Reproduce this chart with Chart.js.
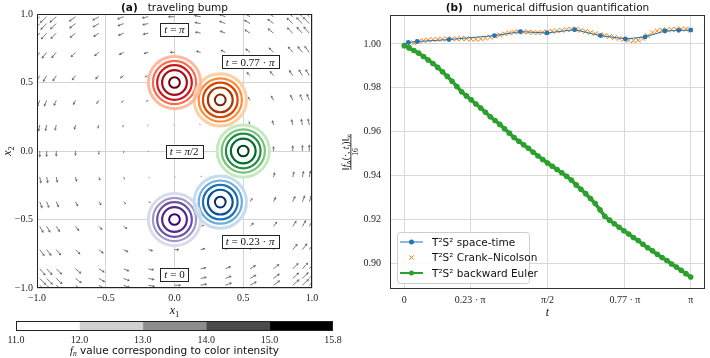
<!DOCTYPE html>
<html>
<head>
<meta charset="utf-8">
<script src="https://cdn.jsdelivr.net/npm/chart.js@4.4.0/dist/chart.umd.min.js"></script>
<style>
  html, body { margin: 0; padding: 0; background: #fff; }
  #wrap { position: relative; width: 710px; height: 358px; overflow: hidden; }
  canvas { position: absolute; }
  #left { left: 0; top: 0; }
  #right { left: 330px; top: 0; }
  #cbar { left: 0; top: 310px; }
</style>
</head>
<body>
<div id="wrap">
  <canvas id="left" width="330" height="320"></canvas>
  <canvas id="right" width="380" height="320"></canvas>
  <canvas id="cbar" width="345" height="48"></canvas>
</div>
<script>
// ---- panel (a): traveling bump ----
const bumpTimes = ['0', '0.23 · π', 'π/2', '0.77 · π', 'π'];
const bumpX = [0.0, 0.333, 0.5, 0.333, 0.0];
const bumpY = [-0.5, -0.373, 0.0, 0.373, 0.5];
// contour radii of the levels 15, 14, 13, 12, 11 around each bump centre
const ringRadii = [0.039, 0.09, 0.126, 0.157, 0.19];
const labelX = [0.0, 0.55, 0.07, 0.55, 0.0];
const labelY = [-0.9, -0.66, 0.0, 0.65, 0.89];
const axisTicks = [-1, -0.5, 0, 0.5, 1];

// transport field sampled on the mesh nodes
const quiverNodes = [-0.98, -0.93, -0.86, -0.72, -0.55, -0.37, -0.19, 0.0, 0.19, 0.37, 0.55, 0.72, 0.86, 0.93, 0.98];
const quiverRowU = [0.98, 0.93, 0.86, 0.72, 0.55, 0.37, 0.19, 0.0, -0.19, -0.37, -0.55, -0.72, -0.86, -0.93, -0.98];
const quiverColV = [-0.98, -0.93, -0.86, -0.72, -0.55, -0.37, -0.19, 0.0, 0.19, 0.37, 0.55, 0.72, 0.86, 0.93, 0.98];

// ---- colour bar ----
const levelBounds = ['11.0', '12.0', '13.0', '14.0', '15.0', '15.8'];

// ---- panel (b): numerical diffusion ----
const tTicks = [0, 0.23, 0.5, 0.77, 1];
const tTickLabels = ['0', '0.23 · π', 'π/2', '0.77 · π', 'π'];
const normTicks = [0.90, 0.92, 0.94, 0.96, 0.98, 1.00];

const spaceTimeT = [0, 0.014, 0.045, 0.156, 0.315, 0.405, 0.498, 0.595, 0.685, 0.772, 0.841, 0.910, 0.958, 1.0];
const spaceTimeNorm = [0.9990, 1.0007, 1.0011, 1.0020, 1.0038, 1.0056, 1.0050, 1.0065, 1.0038, 1.0023, 1.0032, 1.0059, 1.0062, 1.0063];

const crankNicolsonNorm = [
  0.9990, 0.9998, 1.0005, 1.0011, 1.0015, 1.0018, 1.0020, 1.0021, 1.0022, 1.0023,
  1.0023, 1.0024, 1.0025, 1.0024, 1.0022, 1.0021, 1.0023, 1.0027, 1.0031, 1.0036,
  1.0041, 1.0046, 1.0050, 1.0053, 1.0055, 1.0055, 1.0054, 1.0052, 1.0052, 1.0053,
  1.0055, 1.0058, 1.0060, 1.0062, 1.0065, 1.0067, 1.0066, 1.0062, 1.0057, 1.0052,
  1.0047, 1.0042, 1.0038, 1.0034, 1.0029, 1.0025, 1.0021, 1.0017, 1.0015, 1.0017,
  1.0025, 1.0038, 1.0051, 1.0059, 1.0063, 1.0064, 1.0065, 1.0067, 1.0068, 1.0067,
  1.0064
];
const backwardEulerNorm = [
  0.9993, 0.9982, 0.9970, 0.9958, 0.9943, 0.9927, 0.9911, 0.9893, 0.9873, 0.9852,
  0.9830, 0.9806, 0.9782, 0.9763, 0.9745, 0.9726, 0.9708, 0.9688, 0.9668, 0.9651,
  0.9633, 0.9613, 0.9593, 0.9573, 0.9556, 0.9540, 0.9524, 0.9506, 0.9489, 0.9473,
  0.9457, 0.9442, 0.9427, 0.9412, 0.9396, 0.9379, 0.9357, 0.9337, 0.9317, 0.9295,
  0.9272, 0.9243, 0.9214, 0.9196, 0.9180, 0.9164, 0.9148, 0.9133, 0.9117, 0.9103,
  0.9086, 0.9070, 0.9056, 0.9040, 0.9026, 0.9012, 0.8996, 0.8982, 0.8967, 0.8952,
  0.8937
];
// equidistant time steps of the two one-step schemes
const stepTimes = crankNicolsonNorm.map((_, i) => i / (crankNicolsonNorm.length - 1));

// ---- styles ----
const sans = "'DejaVu Sans', sans-serif";
const serif = "'Liberation Serif', 'DejaVu Serif', serif";
const ringColors = [
  ['#3f007d', '#54278f', '#6a51a3', '#9e9ac8', '#dadaeb'],
  ['#08306b', '#08519c', '#2171b5', '#6baed6', '#c6dbef'],
  ['#00441b', '#006d2c', '#238b45', '#74c476', '#c7e9c0'],
  ['#7f2704', '#a63603', '#d94801', '#fd8d3c', '#fdd0a2'],
  ['#67000d', '#a50f15', '#cb181d', '#fb6a4a', '#fcbba1']
];
const ringWidths = [2, 2.2, 2.2, 2.2, 3];
const levelGrays = ['#ffffff', '#d0d0d0', '#8e8e8e', '#4b4b4b', '#000000'];
const quiverScale = 0.05;

function fontOf(style, size, family) {
  const st = style.split(' ');
  const s = (st.includes('sub') || st.includes('sup')) ? size * 0.72 : size;
  return (st.includes('it') ? 'italic ' : '') + (st.includes('bold') ? 'bold ' : '') + s + 'px ' + family;
}

function drawRich(ctx, parts, x, y, align, size, family) {
  const widths = parts.map(p => {
    ctx.font = fontOf(p[1] || '', size, p[2] || family);
    return ctx.measureText(p[0]).width;
  });
  const total = widths.reduce((a, b) => a + b, 0);
  let cx = align === 'center' ? x - total / 2 : align === 'right' ? x - total : x;
  ctx.textAlign = 'left';
  ctx.textBaseline = 'alphabetic';
  parts.forEach((p, k) => {
    const st = (p[1] || '').split(' ');
    ctx.font = fontOf(p[1] || '', size, p[2] || family);
    const dy = st.includes('sub') ? size * 0.22 : st.includes('sup') ? -size * 0.38 : 0;
    ctx.fillText(p[0], cx, y + dy);
    cx += widths[k];
  });
  return total;
}

function mathParts(text) {
  return text.split('').map(ch => [ch, /[a-zπ]/.test(ch) ? 'it' : '']);
}

function unitPx(chart) {
  const s = chart.scales.x;
  return Math.abs(s.getPixelForValue(1) - s.getPixelForValue(0));
}

function frame(chart, color) {
  const { ctx, chartArea: ca } = chart;
  ctx.save();
  ctx.strokeStyle = color;
  ctx.lineWidth = 1;
  ctx.strokeRect(Math.round(ca.left) + 0.5, Math.round(ca.top) + 0.5,
    Math.round(ca.right - ca.left) - 1, Math.round(ca.bottom - ca.top) - 1);
  ctx.restore();
}

const fixedTicks = values => scale => { scale.ticks = values.map(v => ({ value: v })); };
const signed = (v, d) => (v < 0 ? '−' : '') + Math.abs(v).toFixed(d);

// ---- panel (a) ----
const quiverLayer = {
  id: 'quiverLayer',
  beforeDatasetsDraw(chart) {
    const { ctx, chartArea: ca, scales: { x, y } } = chart;
    ctx.save();
    ctx.beginPath();
    ctx.rect(ca.left, ca.top, ca.right - ca.left, ca.bottom - ca.top);
    ctx.clip();
    ctx.strokeStyle = '#6a6a6a';
    ctx.fillStyle = '#6a6a6a';
    ctx.lineWidth = 0.9;
    quiverNodes.forEach((yn, r) => quiverNodes.forEach((xn, c) => {
      const x0 = x.getPixelForValue(xn), y0 = y.getPixelForValue(yn);
      const x1 = x.getPixelForValue(xn + quiverRowU[r] * quiverScale);
      const y1 = y.getPixelForValue(yn + quiverColV[c] * quiverScale);
      const len = Math.hypot(x1 - x0, y1 - y0);
      if (len < 0.6) { ctx.fillRect(x0 - 0.5, y0 - 0.5, 1, 1); return; }
      const ux = (x1 - x0) / len, uy = (y1 - y0) / len;
      const hl = Math.min(2.6, len * 0.5), hw = Math.min(1.4, hl * 0.55);
      const bx = x1 - ux * hl, by = y1 - uy * hl;
      ctx.beginPath(); ctx.moveTo(x0, y0); ctx.lineTo(bx, by); ctx.stroke();
      ctx.beginPath();
      ctx.moveTo(x1, y1);
      ctx.lineTo(bx - uy * hw, by + ux * hw);
      ctx.lineTo(bx + uy * hw, by - ux * hw);
      ctx.closePath(); ctx.fill();
    }));
    ctx.restore();
  },
  afterDatasetsDraw(chart) {
    const { ctx, scales: { x, y } } = chart;
    ctx.save();
    bumpTimes.forEach((t, i) => {
      const px = x.getPixelForValue(labelX[i]), py = y.getPixelForValue(labelY[i]);
      const parts = mathParts('t = ' + t);
      const w = parts.reduce((s, p) => { ctx.font = fontOf(p[1], 11, serif); return s + ctx.measureText(p[0]).width; }, 0) + 8;
      const h = 13;
      ctx.fillStyle = '#fff';
      ctx.fillRect(px - w / 2, py - h / 2, w, h);
      ctx.strokeStyle = '#222';
      ctx.lineWidth = 1;
      ctx.strokeRect(Math.round(px - w / 2) + 0.5, Math.round(py - h / 2) + 0.5, Math.round(w), h);
      ctx.fillStyle = '#111';
      drawRich(ctx, parts, px, py + 4, 'center', 11, serif);
    });
    ctx.restore();
  },
  afterDraw(chart) {
    const { ctx, chartArea: ca } = chart;
    frame(chart, '#222');
    ctx.save();
    ctx.fillStyle = '#111';
    drawRich(ctx, [['(a)', 'bold'], ['   traveling bump', '']], (ca.left + ca.right) / 2, 11, 'center', 10.5, sans);
    drawRich(ctx, [['x', 'it'], ['1', 'sub']], (ca.left + ca.right) / 2, 314, 'center', 12, serif);
    ctx.translate(8, (ca.top + ca.bottom) / 2);
    ctx.rotate(-Math.PI / 2);
    drawRich(ctx, [['x', 'it'], ['2', 'sub']], 0, 3, 'center', 12, serif);
    ctx.restore();
  }
};

const centers = () => bumpX.map((v, i) => ({ x: v, y: bumpY[i] }));

new Chart(document.getElementById('left'), {
  type: 'scatter',
  data: {
    datasets: [
      {
        label: 'support',
        data: centers(),
        pointRadius: ctx => unitPx(ctx.chart) * 0.2,
        backgroundColor: '#ffffff',
        borderWidth: 0,
        order: 10
      },
      ...ringRadii.map((r, level) => ({
        label: 'f level ' + (15 - level),
        data: centers(),
        pointRadius: ctx => unitPx(ctx.chart) * r,
        borderColor: ctx => ringColors[ctx.dataIndex][level],
        backgroundColor: 'rgba(0,0,0,0)',
        borderWidth: ringWidths[level],
        order: 1 + (4 - level)
      }))
    ]
  },
  options: {
    responsive: false,
    animation: false,
    events: [],
    layout: { padding: { top: 14, right: 18, left: 0, bottom: 0 } },
    plugins: { legend: { display: false }, tooltip: { enabled: false } },
    scales: {
      x: {
        type: 'linear', min: -1, max: 1,
        afterBuildTicks: fixedTicks(axisTicks),
        afterFit: s => { s.height = 32; },
        ticks: { callback: v => signed(v, 1), font: { family: serif, size: 10 }, color: '#222', padding: 4, maxRotation: 0 },
        grid: { color: '#d4d4d4', lineWidth: 1, drawTicks: false },
        border: { display: false }
      },
      y: {
        type: 'linear', min: -1, max: 1,
        afterBuildTicks: fixedTicks(axisTicks),
        afterFit: s => { s.width = 37; },
        ticks: { callback: v => signed(v, 1), font: { family: serif, size: 10 }, color: '#222', padding: 4 },
        grid: { color: '#d4d4d4', lineWidth: 1, drawTicks: false },
        border: { display: false }
      }
    }
  },
  plugins: [quiverLayer]
});

// ---- colour bar ----
new Chart(document.getElementById('cbar'), {
  type: 'bar',
  data: {
    labels: [''],
    datasets: levelGrays.map((c, i) => ({
      label: levelBounds[i] + '–' + levelBounds[i + 1],
      data: [[i, i + 1]],
      backgroundColor: c,
      borderWidth: 0,
      grouped: false,
      barPercentage: 1,
      categoryPercentage: 1
    }))
  },
  options: {
    indexAxis: 'y',
    responsive: false,
    animation: false,
    events: [],
    layout: { padding: { top: 11, left: 16, right: 12, bottom: 0 } },
    plugins: { legend: { display: false }, tooltip: { enabled: false } },
    scales: {
      x: {
        type: 'linear', min: 0, max: levelGrays.length,
        afterBuildTicks: fixedTicks(levelBounds.map((_, i) => i)),
        afterFit: s => { s.height = 27; },
        ticks: { callback: (v, i) => levelBounds[i], font: { family: serif, size: 10 }, color: '#222', padding: 3, maxRotation: 0 },
        grid: { display: false, drawTicks: false },
        border: { display: false }
      },
      y: { display: false }
    }
  },
  plugins: [{
    id: 'cbarFrame',
    afterDraw(chart) {
      const { ctx, chartArea: ca } = chart;
      frame(chart, '#222');
      ctx.save();
      ctx.fillStyle = '#111';
      drawRich(ctx, [['f', 'it', serif], ['n', 'sub it', serif], [' value corresponding to color intensity', '', sans]],
        (ca.left + ca.right) / 2, 44, 'center', 10.5, sans);
      ctx.restore();
    }
  }]
});

// ---- panel (b) ----
const legendBox = {
  id: 'legendBox',
  afterDatasetsDraw(chart) {
    const { ctx, chartArea: ca } = chart;
    const x0 = ca.left + 7, y0 = ca.bottom - 57, w = 132, h = 51;
    ctx.save();
    ctx.fillStyle = 'rgba(255,255,255,0.85)';
    ctx.strokeStyle = '#cccccc';
    ctx.lineWidth = 1;
    ctx.beginPath();
    ctx.roundRect(Math.round(x0) + 0.5, Math.round(y0) + 0.5, w, h, 3);
    ctx.fill();
    ctx.stroke();
    chart.data.datasets.forEach((ds, i) => {
      const yy = y0 + 10 + i * 15.5;
      const xs = x0 + 3, xe = x0 + 26, xm = (xs + xe) / 2;
      ctx.strokeStyle = ds.borderColor;
      ctx.fillStyle = ds.backgroundColor;
      if (ds.showLine) {
        ctx.lineWidth = Math.min(ds.borderWidth, 2);
        ctx.beginPath(); ctx.moveTo(xs, yy); ctx.lineTo(xe, yy); ctx.stroke();
      }
      if (ds.pointStyle === 'crossRot') {
        const r = 2.2;
        ctx.lineWidth = 1;
        ctx.beginPath();
        ctx.moveTo(xm - r, yy - r); ctx.lineTo(xm + r, yy + r);
        ctx.moveTo(xm - r, yy + r); ctx.lineTo(xm + r, yy - r);
        ctx.stroke();
      } else {
        ctx.beginPath(); ctx.arc(xm, yy, 2.5, 0, Math.PI * 2); ctx.fill();
      }
      ctx.fillStyle = '#111';
      drawRich(ctx, [[ds.label, '']], x0 + 35, yy + 3.5, 'left', 10.5, sans);
    });
    ctx.restore();
  },
  afterDraw(chart) {
    const { ctx, chartArea: ca } = chart;
    frame(chart, '#333');
    ctx.save();
    ctx.fillStyle = '#111';
    const cx = (ca.left + ca.right) / 2;
    drawRich(ctx, [['(b)', 'bold'], ['   numerical diffusion quantification', '']], cx, 11, 'center', 10.5, sans);
    drawRich(ctx, [['t', 'it']], cx, 316, 'center', 12, serif);
    ctx.translate(21, (ca.top + ca.bottom) / 2);
    ctx.rotate(-Math.PI / 2);
    const wNum = drawRich(ctx, [['‖', ''], ['f', 'it'], ['Δ', 'sub'], ['(·, ', ''], ['t', 'it'], ['i', 'sub it'], [')‖', ''], ['∞', 'sub']],
      0, -2.5, 'center', 9.5, serif);
    ctx.fillRect(-wNum / 2, -0.5, wNum, 0.8);
    drawRich(ctx, [['16', '']], 0, 7, 'center', 7.5, serif);
    ctx.restore();
  }
};

new Chart(document.getElementById('right'), {
  type: 'scatter',
  data: {
    datasets: [
      {
        label: 'T²S² space-time',
        data: spaceTimeT.map((t, i) => ({ x: t, y: spaceTimeNorm[i] })),
        showLine: true,
        borderColor: '#1f77b4',
        backgroundColor: '#1f77b4',
        borderWidth: 1,
        pointRadius: 2.4,
        pointBorderWidth: 0,
        order: 1
      },
      {
        label: 'T²S² Crank–Nicolson',
        data: stepTimes.map((t, i) => ({ x: t, y: crankNicolsonNorm[i] })),
        showLine: false,
        pointStyle: 'crossRot',
        borderColor: '#ff7f0e',
        backgroundColor: '#ff7f0e',
        pointRadius: 3.4,
        pointBorderWidth: 1,
        order: 2
      },
      {
        label: 'T²S² backward Euler',
        data: stepTimes.map((t, i) => ({ x: t, y: backwardEulerNorm[i] })),
        showLine: true,
        borderColor: '#2ca02c',
        backgroundColor: '#2ca02c',
        borderWidth: 3.5,
        pointRadius: 2.8,
        pointBorderWidth: 0,
        order: 0
      }
    ]
  },
  options: {
    responsive: false,
    animation: false,
    events: [],
    layout: { padding: { top: 14, right: 1, left: 0, bottom: 0 } },
    plugins: { legend: { display: false }, tooltip: { enabled: false } },
    scales: {
      x: {
        type: 'linear', min: -0.05, max: 1.05,
        afterBuildTicks: fixedTicks(tTicks),
        afterFit: s => { s.height = 31; },
        ticks: { callback: (v, i) => tTickLabels[i], font: { family: serif, size: 10 }, color: '#222', padding: 5, maxRotation: 0 },
        grid: { color: '#d9d9d9', lineWidth: 1, drawTicks: false },
        border: { display: false }
      },
      y: {
        type: 'linear', min: 0.8882, max: 1.0132,
        afterBuildTicks: fixedTicks(normTicks),
        afterFit: s => { s.width = 60; },
        ticks: { callback: v => v.toFixed(2), font: { family: serif, size: 10 }, color: '#222', padding: 9 },
        grid: { color: '#d9d9d9', lineWidth: 1, drawTicks: false },
        border: { display: false }
      }
    }
  },
  plugins: [legendBox]
});
</script>
</body>
</html>
